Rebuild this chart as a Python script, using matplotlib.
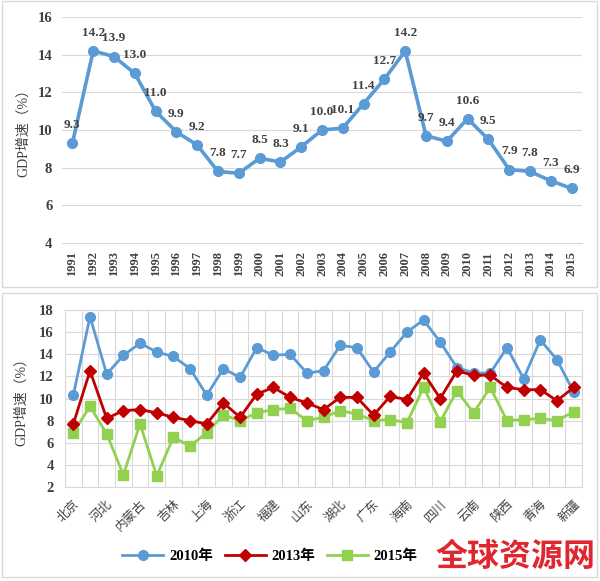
import numpy as np
import matplotlib
matplotlib.use("Agg")
import matplotlib.pyplot as plt
from matplotlib.patches import Rectangle

plt.rcParams['font.family'] = ['Liberation Serif', 'Noto Sans CJK SC', 'DejaVu Sans']

# top panel: national GDP growth
years = list(range(1991, 2016))
gdp_growth = [9.3, 14.2, 13.9, 13.0, 11.0, 9.9, 9.2, 7.8, 7.7, 8.5, 8.3, 9.1, 10.0,
              10.1, 11.4, 12.7, 14.2, 9.7, 9.4, 10.6, 9.5, 7.9, 7.8, 7.3, 6.9]

# bottom panel: provinces
provinces = ['北京', '天津', '河北', '山西', '内蒙古', '辽宁', '吉林', '黑龙江', '上海',
             '江苏', '浙江', '安徽', '福建', '江西', '山东', '河南', '湖北', '湖南', '广东',
             '广西', '海南', '重庆', '四川', '贵州', '云南', '西藏', '陕西', '甘肃', '青海',
             '宁夏', '新疆']
growth_2010 = [10.3, 17.4, 12.2, 13.9, 15.0, 14.2, 13.8, 12.7, 10.3, 12.7, 11.9, 14.6,
               13.9, 14.0, 12.3, 12.5, 14.8, 14.6, 12.4, 14.2, 16.0, 17.1, 15.1, 12.8,
               12.3, 12.3, 14.6, 11.8, 15.3, 13.5, 10.6]
growth_2013 = [7.7, 12.5, 8.2, 8.9, 9.0, 8.7, 8.3, 8.0, 7.7, 9.6, 8.3, 10.4, 11.0, 10.1,
               9.6, 9.0, 10.1, 10.1, 8.5, 10.2, 9.9, 12.3, 10.0, 12.5, 12.1, 12.1, 11.0,
               10.8, 10.8, 9.8, 11.0]
growth_2015 = [6.9, 9.3, 6.8, 3.1, 7.7, 3.0, 6.5, 5.7, 6.9, 8.5, 8.0, 8.7, 9.0, 9.1, 8.0,
               8.3, 8.9, 8.6, 8.0, 8.1, 7.8, 11.0, 7.9, 10.7, 8.7, 11.0, 8.0, 8.1, 8.2,
               8.0, 8.8]

W, H = 600, 581
fig = plt.figure(figsize=(W / 100, H / 100), dpi=100)

def px_axes(left, top, right, bottom):
    return fig.add_axes([left / W, 1 - bottom / H, (right - left) / W, (bottom - top) / H])

# panel frames
for top, bottom in [(1, 287), (293, 577)]:
    fig.patches.append(Rectangle((2 / W, 1 - bottom / H), 595 / W, (bottom - top) / H,
                                 transform=fig.transFigure, fill=False,
                                 edgecolor='#d9d9d9', linewidth=1))

blue = '#5b9bd5'
grid_c = '#d9d9d9'

# ---- top chart
ax1 = px_axes(62, 17, 582, 243)
x1 = np.arange(len(years))
ax1.plot(x1, gdp_growth, color=blue, linewidth=2.6, marker='o', markersize=7, zorder=3)
for xi, v in zip(x1, gdp_growth):
    ax1.annotate(f'{v:.1f}', (xi, v), xytext=(0, 13), textcoords='offset points',
                 ha='center', va='center', fontsize=9.5, fontweight='bold', color='#404040')
ax1.set_xlim(-0.5, len(years) - 0.5)
ax1.set_ylim(4, 16)
ax1.set_yticks(range(4, 17, 2))
ax1.set_xticks(x1)
ax1.set_xticklabels([str(y) for y in years], rotation=90, fontsize=9, fontweight='bold',
                    color='#404040')
ax1.grid(axis='y', color=grid_c, linewidth=0.8)
ax1.set_axisbelow(True)
for s in ['top', 'right', 'left']:
    ax1.spines[s].set_visible(False)
ax1.spines['bottom'].set_color(grid_c)
ax1.tick_params(length=0, pad=6)
ax1.tick_params(axis='y', labelsize=10.5, labelcolor='#404040', pad=7)
for t in ax1.get_yticklabels():
    t.set_fontweight('bold')
ax1.set_ylabel('GDP增速（%）', fontsize=10, color='#404040')
ax1.yaxis.set_label_coords(-0.062, 0.5)

# ---- bottom chart
ax2 = px_axes(65, 310, 582, 487)
x2 = np.arange(len(provinces))
ax2.plot(x2, growth_2010, color=blue, linewidth=2, marker='o', markersize=7, label='2010年', zorder=3)
ax2.plot(x2, growth_2013, color='#c00000', linewidth=2, marker='D', markersize=6, label='2013年', zorder=4)
ax2.plot(x2, growth_2015, color='#92d050', linewidth=2, marker='s', markersize=7, label='2015年', zorder=3)
ax2.set_xlim(-0.5, len(provinces) - 0.5)
ax2.set_ylim(2, 18)
ax2.set_yticks(range(2, 19, 2))
ax2.set_xticks(x2[::2])
ax2.set_xticklabels(provinces[::2], rotation=45, ha='right', rotation_mode='anchor',
                    fontsize=9, color='#404040')
ax2.set_xticks(np.arange(-0.5, len(provinces), 1), minor=True)
ax2.grid(axis='y', color=grid_c, linewidth=0.8)
ax2.grid(axis='x', which='minor', color=grid_c, linewidth=0.8)
ax2.set_axisbelow(True)
for s in ax2.spines.values():
    s.set_color(grid_c)
ax2.tick_params(which='both', length=0)
ax2.tick_params(axis='x', pad=8)
ax2.tick_params(axis='y', labelsize=10.5, labelcolor='#404040', pad=8)
for t in ax2.get_yticklabels():
    t.set_fontweight('bold')
ax2.set_ylabel('GDP增速（%）', fontsize=10, color='#404040')
ax2.yaxis.set_label_coords(-0.072, 0.5)

leg = fig.legend(loc='center', bbox_to_anchor=(270 / W, 1 - 556 / H), ncol=3,
                 frameon=False, handlelength=2.8, columnspacing=0.8, handletextpad=0.4,
                 prop={'size': 10.5, 'weight': 'bold'})

fig.text(515 / W, 1 - 557 / H, '全球资源网', color='#e0262f', fontsize=23, fontweight='bold',
         ha='center', va='center', family=['Noto Sans CJK SC'])

fig.savefig('out.png', dpi=100)
